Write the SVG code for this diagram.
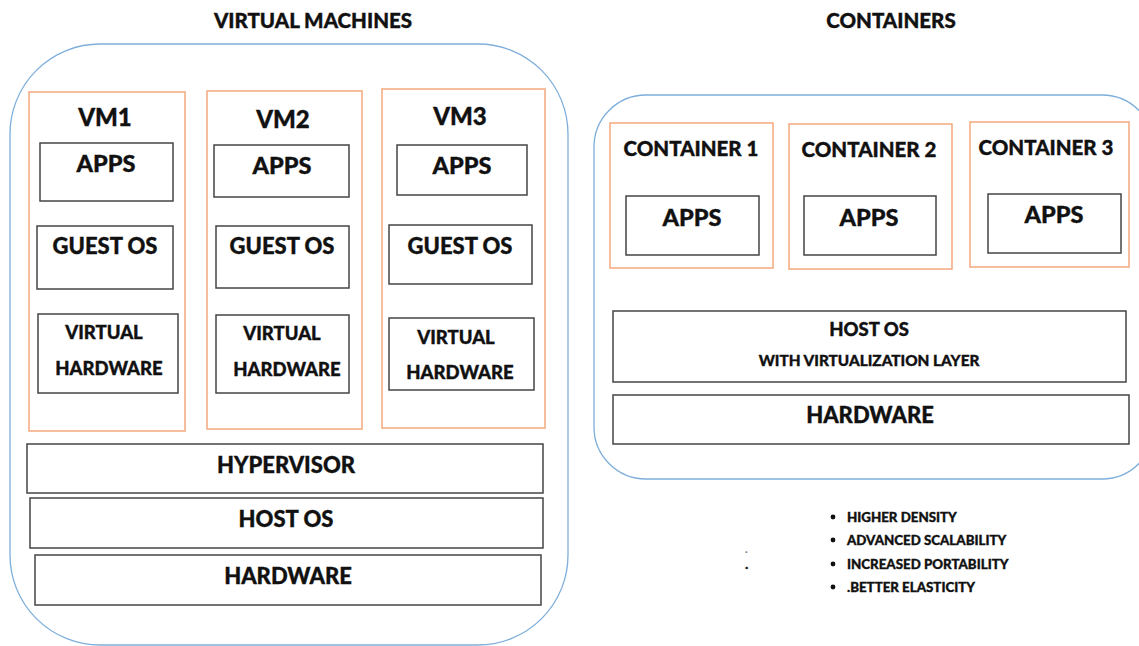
<svg xmlns="http://www.w3.org/2000/svg" width="1139" height="646" viewBox="0 0 1139 646">
<style>
text{font-family:Lato,"Open Sans","Liberation Sans",sans-serif;font-weight:900;fill:#111;text-anchor:middle;stroke:#111;stroke-width:0.35}
.outer{fill:none;stroke:#7eaedb;stroke-width:1.3}
.org{fill:#fff;stroke:#f4a97c;stroke-width:1.5}
.box{fill:#fff;stroke:#444;stroke-width:1.5}
.t20{font-size:20.5px}
.t24{font-size:24px}
.t23{font-size:23.5px}
.t22{font-size:22px}
.t21{font-size:21px}
.t18{font-size:18.5px}
.t15{font-size:15.3px}
.t13{font-size:13.3px;text-anchor:start}
</style>
<rect width="1139" height="646" fill="#fff"/>
<text class="t20" x="313" y="28">VIRTUAL MACHINES</text>
<text class="t20" x="891" y="28">CONTAINERS</text>

<g id="vm-env">
<rect class="outer" x="10" y="44" width="558" height="601" rx="90" ry="90"/>
</g>
<g id="vm1">
<rect class="org" x="29" y="92" width="156" height="339"/>
<text class="t24" x="105" y="126">VM1</text>
</g>
<g id="vm1-apps"><rect class="box" x="40" y="143" width="133" height="58"/><text class="t23" x="106" y="172">APPS</text></g>
<g id="vm1-guest"><rect class="box" x="37" y="226" width="136" height="63"/><text class="t22" x="105" y="254">GUEST OS</text></g>
<g id="vm1-vhw"><rect class="box" x="38" y="314" width="140" height="79"/><text class="t18" x="104" y="339">VIRTUAL</text><text class="t18" x="109" y="375">HARDWARE</text></g>

<g id="vm2">
<rect class="org" x="207" y="91" width="155" height="338"/>
<text class="t24" x="283" y="128">VM2</text>
</g>
<g id="vm2-apps"><rect class="box" x="214" y="145" width="135" height="52"/><text class="t23" x="282" y="174">APPS</text></g>
<g id="vm2-guest"><rect class="box" x="216" y="226" width="133" height="62"/><text class="t22" x="282" y="254">GUEST OS</text></g>
<g id="vm2-vhw"><rect class="box" x="216" y="315" width="133" height="78"/><text class="t18" x="282" y="340">VIRTUAL</text><text class="t18" x="287" y="376">HARDWARE</text></g>

<g id="vm3">
<rect class="org" x="382" y="89" width="163" height="339"/>
<text class="t24" x="460" y="125">VM3</text>
</g>
<g id="vm3-apps"><rect class="box" x="397" y="145" width="130" height="50"/><text class="t23" x="462" y="174">APPS</text></g>
<g id="vm3-guest"><rect class="box" x="389" y="225" width="143" height="59"/><text class="t22" x="460" y="254">GUEST OS</text></g>
<g id="vm3-vhw"><rect class="box" x="389" y="318" width="145" height="72"/><text class="t18" x="456" y="344">VIRTUAL</text><text class="t18" x="460" y="379">HARDWARE</text></g>

<g id="hypervisor"><rect class="box" x="27" y="444" width="516" height="49"/><text class="t22" x="286" y="473">HYPERVISOR</text></g>
<g id="vm-hostos"><rect class="box" x="30" y="498" width="513" height="50"/><text class="t22" x="286" y="527">HOST OS</text></g>
<g id="vm-hardware"><rect class="box" x="35" y="555" width="506" height="50"/><text class="t22" x="288" y="584">HARDWARE</text></g>

<g id="ct-env">
<rect class="outer" x="594" y="95" width="560" height="384" rx="52" ry="52"/>
</g>
<g id="c1"><rect class="org" x="610" y="123" width="163" height="145"/><text class="t20" x="691" y="156">CONTAINER 1</text></g>
<g id="c1-apps"><rect class="box" x="626" y="196" width="133" height="59"/><text class="t23" x="692" y="226">APPS</text></g>
<g id="c2"><rect class="org" x="789" y="124" width="163" height="145"/><text class="t20" x="869" y="157">CONTAINER 2</text></g>
<g id="c2-apps"><rect class="box" x="804" y="196" width="132" height="59"/><text class="t23" x="869" y="226">APPS</text></g>
<g id="c3"><rect class="org" x="970" y="122" width="159" height="145"/><text class="t20" x="1046" y="155">CONTAINER 3</text></g>
<g id="c3-apps"><rect class="box" x="988" y="194" width="133" height="59"/><text class="t23" x="1054" y="223">APPS</text></g>
<g id="ct-hostos"><rect class="box" x="613" y="311" width="513" height="71"/><text class="t18" x="869" y="336">HOST OS</text><text class="t15" x="869" y="366">WITH VIRTUALIZATION LAYER</text></g>
<g id="ct-hardware"><rect class="box" x="613" y="395" width="516" height="49"/><text class="t22" x="870" y="423">HARDWARE</text></g>

<g id="connectors"></g>

<g id="benefits">
<circle cx="833" cy="517" r="2.4" fill="#111"/><text class="t13" x="847" y="522">HIGHER DENSITY</text>
<circle cx="833" cy="540" r="2.4" fill="#111"/><text class="t13" x="847" y="545">ADVANCED SCALABILITY</text>
<circle cx="833" cy="564" r="2.4" fill="#111"/><text class="t13" x="847" y="569">INCREASED PORTABILITY</text>
<circle cx="833" cy="587" r="2.4" fill="#111"/><text class="t13" x="847" y="592">.BETTER ELASTICITY</text>
<text class="t13" x="745" y="553" style="font-size:11px;stroke-width:0;fill:#777">.</text>
<text class="t13" x="745" y="569" style="font-size:14px">.</text>
</g>
</svg>
